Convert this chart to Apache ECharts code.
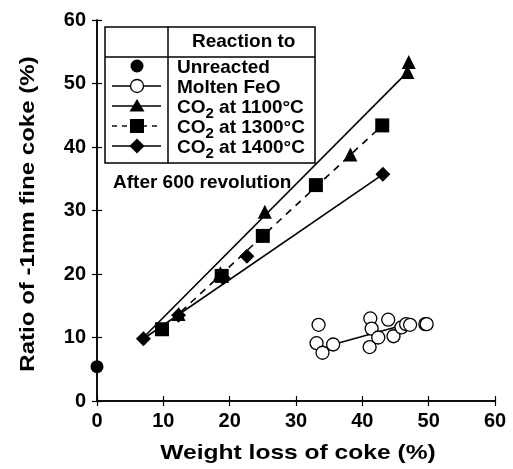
<!DOCTYPE html>
<html><head><meta charset="utf-8">
<script src="https://cdn.jsdelivr.net/npm/echarts@6/dist/echarts.min.js"></script>
<style>html,body{margin:0;padding:0;background:#fff}#c{width:513px;height:469px}</style>
</head><body><div id="c"></div>
<script>
var xTicks = [0, 10, 20, 30, 40, 50, 60];
var yTicks = [0, 10, 20, 30, 40, 50, 60];
var xTitle = 'Weight loss of coke (%)';
var yTitle = 'Ratio of -1mm fine coke (%)';
var unreacted = [[0, 5.4]];
var moltenFeO = [[33.4, 12.0], [33.1, 9.1], [34.0, 7.6], [35.6, 8.9], [41.2, 13.0], [41.4, 11.4], [41.1, 8.5], [42.4, 10.0], [43.9, 12.8], [44.7, 10.2], [45.9, 11.6], [46.6, 12.1], [47.2, 12.0], [49.5, 12.1], [49.7, 12.1]];
var moltenFeOLine = [[35.6, 8.9], [46.6, 12.1]];
var co2_1100 = [[12.3, 13.7], [18.6, 20.1], [25.3, 29.8], [38.2, 38.8], [46.8, 51.8], [47.0, 53.4]];
var co2_1100Line = [[7.0, 10.0], [46.8, 51.8]];
var co2_1300 = [[9.8, 11.3], [18.8, 19.7], [25.0, 26.0], [33.0, 34.0], [43.0, 43.4]];
var co2_1300Line = [[9.8, 11.3], [43.0, 43.4]];
var co2_1400 = [[7.0, 9.8], [12.3, 13.5], [19.0, 19.4], [22.6, 22.8], [43.1, 35.7]];
var co2_1400Line = [[7.0, 9.8], [43.1, 35.7]];

var FONT = 'Liberation Sans';
var chart = echarts.init(document.getElementById('c'), null, {renderer: 'canvas'});

function lineSeries(data, dashed) {
  return {type: 'line', data: data, symbol: 'none', silent: true, z: 2,
    lineStyle: {color: '#000', width: 1.6, type: dashed ? [7, 6] : 'solid'}};
}
function scat(data, sym, size, fill, z) {
  return {type: 'scatter', data: data, symbol: sym, symbolSize: size, z: z || 3,
    itemStyle: {color: fill, borderColor: '#000', borderWidth: fill === '#fff' ? 1.3 : 0, opacity: 1}};
}
var axisCommon = {
  min: 0, max: 60, interval: 10,
  axisLine: {show: true, lineStyle: {color: '#000', width: 1.5}},
  axisTick: {show: true, inside: true, length: 5, lineStyle: {color: '#000', width: 1.2}},
  splitLine: {show: false}
};
var legX = 105, legY = 27, legW = 210, legH = 136, divX = 168, hdrY = 57;
var rowY = [66, 86, 106, 126, 146];
var symX = 137;
var rich = {sub: {fontFamily: FONT, fontWeight: 'bold', fontSize: 15, padding: [13, 0, 0, 0], fill: '#000'}};
function legText(y, txt) {
  return {type: 'text', left: 177, top: y - 8, z: 100,
    style: {text: txt, fontFamily: FONT, fontWeight: 'bold', fontSize: 19, fill: '#000', rich: rich}};
}
function legLine(y, dashed) {
  return {type: 'line', z: 99, shape: {x1: 112, y1: y, x2: 161, y2: y},
    style: {stroke: '#000', lineWidth: 1.4, lineDash: dashed ? [5, 5] : null}};
}
var graphics = [
  {type: 'rect', z: 98, shape: {x: legX, y: legY, width: legW, height: legH}, style: {fill: '#fff', stroke: '#000', lineWidth: 1.5}},
  {type: 'line', z: 99, shape: {x1: divX, y1: legY, x2: divX, y2: legY + legH}, style: {stroke: '#000', lineWidth: 1.5}},
  {type: 'line', z: 99, shape: {x1: legX, y1: hdrY, x2: legX + legW, y2: hdrY}, style: {stroke: '#000', lineWidth: 1.5}},
  {type: 'text', left: 192, top: 32, z: 100, style: {text: 'Reaction to', fontFamily: FONT, fontWeight: 'bold', fontSize: 19, fill: '#000'}},
  {type: 'circle', z: 100, shape: {cx: symX, cy: rowY[0], r: 6.5}, style: {fill: '#000'}},
  legLine(rowY[1], false),
  {type: 'circle', z: 100, shape: {cx: symX, cy: rowY[1], r: 6.5}, style: {fill: '#fff', stroke: '#000', lineWidth: 1.3}},
  legLine(rowY[2], false),
  {type: 'polygon', z: 100, shape: {points: [[symX, rowY[2] - 7], [symX + 7.5, rowY[2] + 5.5], [symX - 7.5, rowY[2] + 5.5]]}, style: {fill: '#000'}},
  legLine(rowY[3], true),
  {type: 'rect', z: 100, shape: {x: symX - 7, y: rowY[3] - 7, width: 14, height: 14}, style: {fill: '#000'}},
  legLine(rowY[4], false),
  {type: 'polygon', z: 100, shape: {points: [[symX, rowY[4] - 7.5], [symX + 7.5, rowY[4]], [symX, rowY[4] + 7.5], [symX - 7.5, rowY[4]]]}, style: {fill: '#000'}},
  legText(rowY[0], 'Unreacted'),
  legText(rowY[1], 'Molten FeO'),
  legText(rowY[2], 'CO{sub|2} at 1100°C'),
  legText(rowY[3], 'CO{sub|2} at 1300°C'),
  legText(rowY[4], 'CO{sub|2} at 1400°C'),
  {type: 'text', left: 113, top: 173, z: 100, style: {text: 'After 600 revolution', fontFamily: FONT, fontWeight: 'bold', fontSize: 19, fill: '#000'}},
  {type: 'text', x: 298, y: 453, scaleX: 1.17, z: 100,
    style: {text: xTitle, fontFamily: FONT, fontWeight: 'bold', fontSize: 21, fill: '#000', align: 'center', verticalAlign: 'middle'}},
  {type: 'text', x: 28, y: 214, rotation: Math.PI / 2, scaleX: 1.145, z: 100,
    style: {text: yTitle, fontFamily: FONT, fontWeight: 'bold', fontSize: 21, fill: '#000', align: 'center', verticalAlign: 'middle'}}
];

chart.setOption({
  animation: false,
  backgroundColor: '#fff',
  grid: {left: 97, right: 18, top: 20, bottom: 68, containLabel: false},
  xAxis: [
    Object.assign({}, axisCommon, {type: 'value', position: 'bottom',
      axisLabel: {fontFamily: FONT, fontWeight: 'bold', fontSize: 20, color: '#000', margin: 10,
        formatter: function (v) { return xTicks.indexOf(v) >= 0 ? String(v) : ''; }}}),
    Object.assign({}, axisCommon, {type: 'value', position: 'top', axisLabel: {show: false}})
  ],
  yAxis: [
    Object.assign({}, axisCommon, {type: 'value', position: 'left',
      axisLabel: {fontFamily: FONT, fontWeight: 'bold', fontSize: 20, color: '#000', margin: 11,
        formatter: function (v) { return yTicks.indexOf(v) >= 0 ? String(v) : ''; }}}),
    Object.assign({}, axisCommon, {type: 'value', position: 'right', axisLabel: {show: false}})
  ],
  series: [
    lineSeries(moltenFeOLine, false),
    lineSeries(co2_1100Line, false),
    lineSeries(co2_1300Line, true),
    lineSeries(co2_1400Line, false),
    scat(moltenFeO, 'circle', 13, '#fff', 3),
    scat(co2_1100, 'triangle', 14, '#000', 4),
    scat(co2_1400, 'diamond', 15, '#000', 4),
    scat(co2_1300, 'rect', 14, '#000', 5),
    {type: 'scatter', data: unreacted, symbol: 'circle', symbolSize: 13, clip: false, z: 6, itemStyle: {color: '#000', opacity: 1}}
  ],
  graphic: graphics
});
</script></body></html>
